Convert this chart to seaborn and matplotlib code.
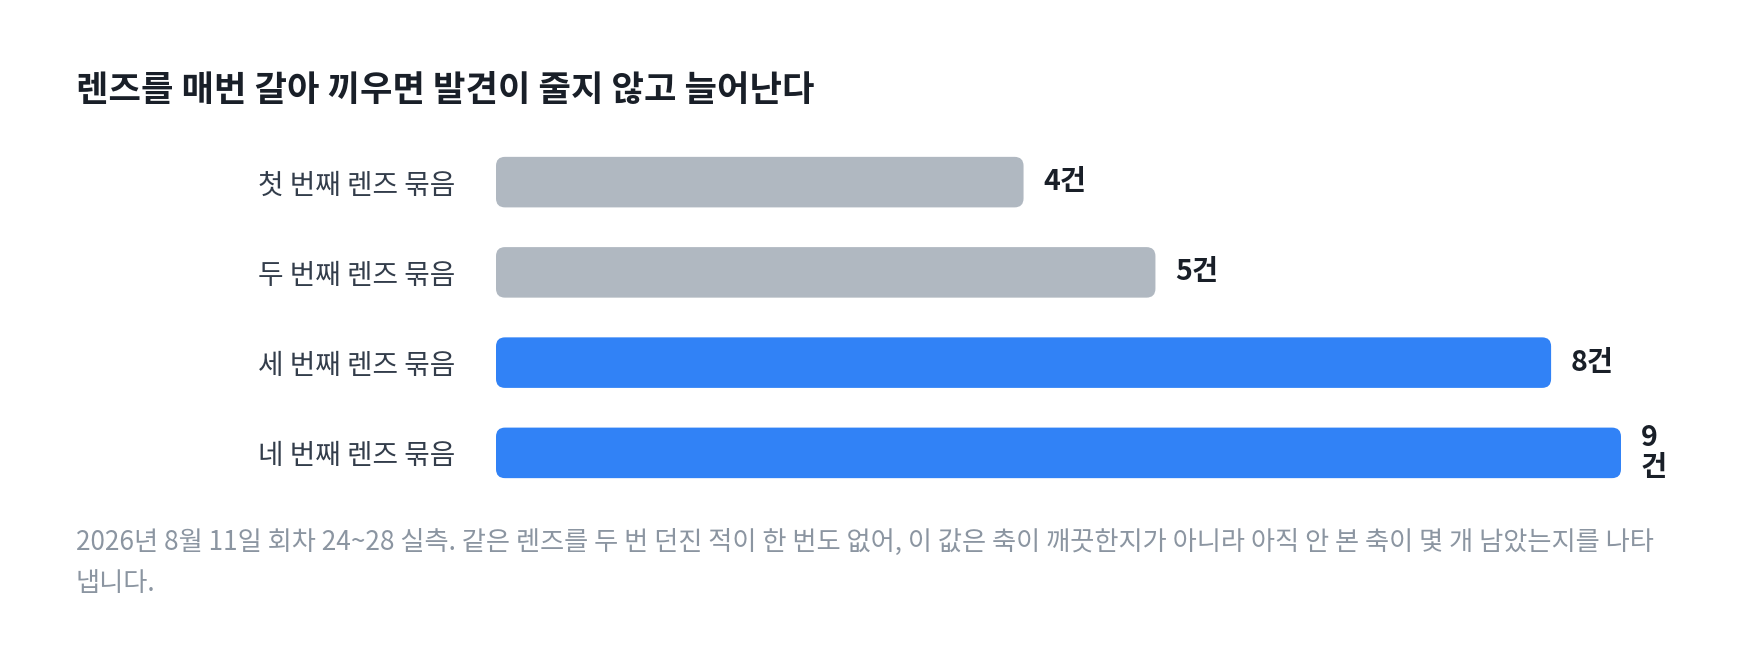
import pandas as pd
import matplotlib
matplotlib.use("Agg")
import matplotlib.pyplot as plt
import seaborn as sns
from matplotlib.patches import FancyBboxPatch

# data
groups = ["첫 번째 렌즈 묶음", "두 번째 렌즈 묶음", "세 번째 렌즈 묶음", "네 번째 렌즈 묶음"]
counts = [4, 5, 8, 9]
value_labels = ["4건", "5건", "8건", "9\n건"]
bar_colors = ["#b0b8c1", "#b0b8c1", "#3182f6", "#3182f6"]

title = "렌즈를 매번 갈아 끼우면 발견이 줄지 않고 늘어난다"
note = ("2026년 8월 11일 회차 24~28 실측. 같은 렌즈를 두 번 던진 적이 한 번도 없어, "
        "이 값은 축이 깨끗한지가 아니라 아직 안 본 축이 몇 개 남았는지를 나타\n냅니다.")

sns.set_style("white")
plt.rcParams["font.family"] = ["Noto Sans CJK KR", "DejaVu Sans"]

W, H = 1760, 666
fig = plt.figure(figsize=(W / 100, H / 100), dpi=100)
fig.patch.set_facecolor("white")

ax_l, ax_r, ax_t, ax_b = 496, 1621, 137, 498
ax = fig.add_axes([ax_l / W, 1 - ax_b / H, (ax_r - ax_l) / W, (ax_b - ax_t) / H])

df = pd.DataFrame({"group": groups, "count": counts})
sns.barplot(data=df, x="count", y="group", hue="group", palette=bar_colors,
            orient="h", width=0.56, saturation=1, legend=False, ax=ax)

xmax = 8.53
ax.set_xlim(0, xmax)
ax.set_ylim(3.5, -0.5)

# px per data unit, for round corners that stay circular
px_x = (ax_r - ax_l) / xmax
px_y = (ax_b - ax_t) / 4.0
radius_px = 9

for p in list(ax.patches):
    x0, y0 = p.get_x(), p.get_y()
    w, h = p.get_width(), p.get_height()
    w = min(w, xmax)  # the last bar hits the frame edge in the original
    fc = p.get_facecolor()
    p.remove()
    ax.add_patch(FancyBboxPatch((x0, y0), w, h,
                                boxstyle=f"round,pad=0,rounding_size={radius_px / px_x}",
                                mutation_aspect=px_x / px_y,
                                fc=fc, ec="none", clip_on=False))

for i, (v, lab) in enumerate(zip(counts, value_labels)):
    ax.annotate(lab, xy=(min(v, xmax), i), xytext=(14, 0), textcoords="offset points",
                ha="left", va="center", fontsize=20.5, fontweight="bold",
                color="#191f28", linespacing=1.1, annotation_clip=False)

ax.set_xlabel("")
ax.set_ylabel("")
ax.set_xticks([])
ax.tick_params(axis="y", length=0, pad=29, labelsize=20, labelcolor="#333d4b")
sns.despine(ax=ax, left=True, bottom=True)

fig.text(76 / W, 1 - 91 / H, title, ha="left", va="center",
         fontsize=25.4, fontweight="bold", color="#191f28")
fig.text(76 / W, 1 - 563 / H, note, ha="left", va="center",
         fontsize=18.9, color="#8b95a1", linespacing=1.65)

fig.savefig("out.png", dpi=100, facecolor="white")
